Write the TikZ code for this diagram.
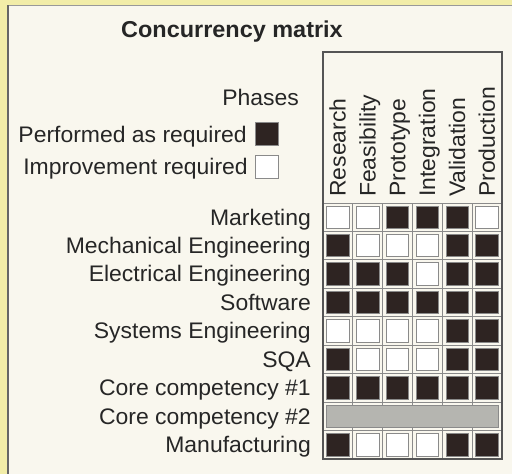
\documentclass[tikz,border=0pt]{standalone}
\usepackage{fontspec}
\setmainfont[FakeStretch=1.02]{Liberation Sans}
\definecolor{yellowbg}{HTML}{F2EDA8}
\definecolor{cream}{HTML}{F9F7EE}
\definecolor{darkcell}{HTML}{2E2422}
\definecolor{barfill}{HTML}{B5B5B0}
\definecolor{gridgray}{HTML}{8A8A8A}
\definecolor{boxline}{HTML}{555555}
\begin{document}
\begin{tikzpicture}[x=1pt,y=-1pt,
  lbl/.style={font=\fontsize{22.5}{24}\selectfont, inner sep=0pt, text=black!85},
  hdr/.style={lbl, rotate=90, anchor=base west},
  rowlbl/.style={lbl, anchor=base east},
  cellbase/.style={draw=gridgray, line width=0.9pt, minimum size=22.5pt, inner sep=0pt},
  cellB/.style={cellbase, fill=darkcell},
  cellW/.style={cellbase, fill=white},
  grid/.style={draw=gridgray, line width=1pt},
  outerbox/.style={draw=boxline, line width=1.5pt}]
\useasboundingbox (0,0) rectangle (512,474);
\fill[yellowbg] (0,0) rectangle (512,474);
\fill[cream] (8,5) rectangle (512,474);
\draw[gray!80, line width=0.6pt] (8,5) -- (512,5);
\draw[black!60, line width=1.5pt] (8,5) -- (8,474);
% title and legend
\node[lbl, font=\fontsize{23}{25}\selectfont\bfseries, anchor=base] (title) at (232,37) {Concurrency matrix};
\node[lbl, anchor=base east] (phases) at (299,105) {Phases};
\node[lbl, anchor=base east] (perf) at (247,142) {Performed as required};
\node[lbl, anchor=base east] (impr) at (248,174) {Improvement required};
\node[draw=gridgray, fill=darkcell, minimum size=23pt, inner sep=0pt] (legB) at (266.5,134) {};
\node[draw=gridgray, line width=0.9pt, fill=white, minimum size=23pt, inner sep=0pt] (legW) at (266.5,167) {};
% matrix geometry
\def\xl{323}\def\xr{502}\def\yt{52}\def\yh{203}\def\yb{459}
\def\cw{29.833}\def\rh{28.444}
% grid lines
\foreach \k in {1,...,5} \draw[grid] (\xl+\k*\cw,\yh) -- (\xl+\k*\cw,\yb);
\foreach \k in {0,...,8} \draw[grid] (\xl,\yh+\k*\rh) -- (\xr,\yh+\k*\rh);
% headers
\foreach \t [count=\i] in {Research,Feasibility,Prototype,Integration,Validation,Production}
  \node[hdr] (h\i) at (\xl+\i*\cw-0.5*\cw+7.8,197) {\t};
% row labels
\foreach \t [count=\j] in {Marketing,Mechanical Engineering,Electrical Engineering,Software,Systems Engineering,SQA,Core competency \#1,Core competency \#2,Manufacturing}
  \node[rowlbl] (r\j) at (311,\yh+\j*\rh-0.5*\rh+7.8) {\t};
% cells
\foreach \row [count=\j] in {{W,W,B,B,B,W},{B,W,W,W,B,B},{B,B,B,W,B,B},{B,B,B,B,B,B},{W,W,W,W,B,B},{B,W,W,W,B,B},{B,B,B,B,B,B},{},{B,W,W,W,B,B}}{
  \foreach \v [count=\i] in \row {
    \node[cell\v] (c\j-\i) at (\xl+\i*\cw-0.5*\cw,\yh+\j*\rh-0.5*\rh) {};
  }
}
\node[draw=gridgray, line width=0.9pt, fill=barfill, minimum width=172pt, minimum height=22pt, inner sep=0pt] (bar) at ({(\xl+\xr)/2},\yh+7.5*\rh) {};
\draw[outerbox] (\xl,\yt) rectangle (\xr,\yb);
\end{tikzpicture}
\end{document}
